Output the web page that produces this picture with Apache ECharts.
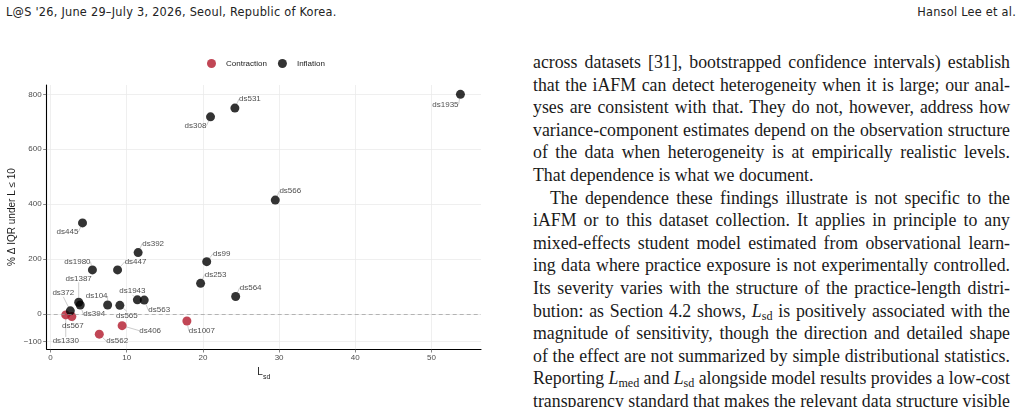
<!DOCTYPE html>
<html>
<head>
<meta charset="utf-8">
<script src="https://cdn.jsdelivr.net/npm/echarts@6/dist/echarts.min.js"></script>
<style>
  html, body { margin: 0; padding: 0; background: #fff; }
  body { width: 1023px; height: 407px; position: relative; overflow: hidden; }
  .hdr { position: absolute; top: 4px; font-family: "Liberation Sans Narrow", "DejaVu Sans Condensed", sans-serif; font-size: 12.6px; letter-spacing: 0.25px; color: #222; }
  #main { position: absolute; left: 0; top: 0; width: 500px; height: 407px; }
  .txt { position: absolute; left: 533px; top: 51px; width: 477px; font-family: "Liberation Serif", "DejaVu Serif", serif; font-size: 17.8px; line-height: 22.6px; color: #1a1a1a; }
  .txt .j { text-align: justify; text-align-last: justify; white-space: nowrap; }
  .txt .l { text-align: left; white-space: nowrap; }
  .txt .ind { text-indent: 17px; }
  .txt sub { font-size: 0.68em; line-height: 0; vertical-align: -0.25em; }
</style>
</head>
<body>
<div class="hdr" style="left:6px;">L@S '26, June 29–July 3, 2026, Seoul, Republic of Korea.</div>
<div class="hdr" style="right:7px;">Hansol Lee et al.</div>

<div id="main"></div>

<div class="txt">
  <div class="j">across datasets [31], bootstrapped confidence intervals) establish</div>
  <div class="j">that the iAFM can detect heterogeneity when it is large; our anal-</div>
  <div class="j">yses are consistent with that. They do not, however, address how</div>
  <div class="j">variance-component estimates depend on the observation structure</div>
  <div class="j">of the data when heterogeneity is at empirically realistic levels.</div>
  <div class="l">That dependence is what we document.</div>
  <div class="j ind">The dependence these findings illustrate is not specific to the</div>
  <div class="j">iAFM or to this dataset collection. It applies in principle to any</div>
  <div class="j">mixed-effects student model estimated from observational learn-</div>
  <div class="j">ing data where practice exposure is not experimentally controlled.</div>
  <div class="j">Its severity varies with the structure of the practice-length distri-</div>
  <div class="j">bution: as Section 4.2 shows, <i>L</i><sub>sd</sub> is positively associated with the</div>
  <div class="j">magnitude of sensitivity, though the direction and detailed shape</div>
  <div class="j">of the effect are not summarized by simple distributional statistics.</div>
  <div class="j">Reporting <i>L</i><sub>med</sub> and <i>L</i><sub>sd</sub> alongside model results provides a low-cost</div>
  <div class="j">transparency standard that makes the relevant data structure visible</div>
</div>

<script type="text/javascript">
    // dataset values
    var contractionNames = ['ds1330', 'ds567', 'ds562', 'ds406', 'ds1007'];
    var contractionLsd   = [2.0, 2.8, 6.4, 9.4, 17.9];
    var contractionIqr   = [-3, -9, -73, -42, -25];

    var inflationNames = ['ds1935', 'ds531', 'ds308', 'ds566', 'ds445', 'ds392', 'ds447', 'ds1980', 'ds99',
                          'ds253', 'ds564', 'ds1387', 'ds394', 'ds372', 'ds104', 'ds565', 'ds1943', 'ds563'];
    var inflationLsd   = [53.8, 24.2, 21.0, 29.5, 4.2, 11.5, 8.8, 5.5, 20.5,
                          19.7, 24.3, 3.7, 3.9, 2.6, 7.5, 9.1, 11.4, 12.3];
    var inflationIqr   = [800, 750, 718, 415, 332, 224, 161, 161, 191,
                          112, 64, 43, 33, 12, 33, 32, 52, 51];

    var xTicks = [0, 10, 20, 30, 40, 50];
    var yTicks = [-100, 0, 200, 400, 600, 800];

    // repel-style label nudges (px from the point)
    var labelNudge = {
        ds1330: [0, 26], ds567: [1, 9], ds562: [18, 7], ds406: [28, 5], ds1007: [15, 10],
        ds1935: [-15, 10], ds531: [15, -9], ds308: [-15, 9], ds566: [15, -9], ds445: [-15, 9],
        ds392: [15, -9], ds447: [18, -8], ds1980: [-15, -8], ds99: [15, -8], ds253: [15, -9],
        ds564: [15, -9], ds1387: [0, -24], ds394: [14, 9], ds372: [-7, -18], ds104: [-11, -9],
        ds565: [7, 10], ds1943: [-5, -9], ds563: [15, 10]
    };

    // squeeze justified lines that are a bit too long for the column
    var colWidth = 477;
    document.querySelectorAll('.txt .j').forEach(function (line) {
        var r = document.createRange();
        r.selectNodeContents(line);
        var w = r.getBoundingClientRect().width;
        if (w > colWidth) {
            var gaps = (line.textContent.trim().match(/ /g) || []).length || 1;
            line.style.wordSpacing = (-(w - colWidth) / gaps - 0.1) + 'px';
        }
    });

    function toPoints(names, xs, ys) {
        return names.map(function (n, i) { return { name: n, value: [xs[i], ys[i]] }; });
    }

    function nudger(names) {
        return function (params) {
            var off = labelNudge[names[params.dataIndex]] || [0, 0];
            return { dx: off[0], dy: off[1] };
        };
    }

    var pointLabel = {
        show: true,
        position: 'inside',
        formatter: '{b}',
        fontFamily: 'Liberation Sans, Arial, sans-serif',
        fontSize: 8,
        color: '#1a1a1a'
    };
    var pointLine = { show: true, lineStyle: { color: '#aaa', width: 0.6 } };

    var myChart = echarts.init(document.getElementById('main'), null, { renderer: 'canvas' });
    myChart.setOption({
        animation: false,
        textStyle: { fontFamily: 'Liberation Sans, Arial, sans-serif' },
        legend: {
            data: ['Contraction', 'Inflation'],
            left: 202,
            top: 54,
            icon: 'circle',
            itemWidth: 9,
            itemHeight: 9,
            itemGap: 11,
            textStyle: { fontSize: 8, color: '#1a1a1a', padding: [0, 0, 0, 5] }
        },
        grid: { left: 46.7, top: 85, right: 19, bottom: 58, containLabel: false, outerBoundsMode: 'none' },
        xAxis: {
            type: 'value',
            min: -0.5,
            max: 56.5,
            name: '{L|L}{s|sd}',
            nameLocation: 'middle',
            nameGap: 15,
            nameTextStyle: {
                rich: {
                    L: { fontSize: 10, color: '#1a1a1a', lineHeight: 14, verticalAlign: 'top' },
                    s: { fontSize: 7, color: '#1a1a1a', lineHeight: 14, verticalAlign: 'bottom' }
                }
            },
            axisLine: { show: true, onZero: false, lineStyle: { color: '#000', width: 1.1 } },
            axisTick: { show: true, length: 3.5, customValues: xTicks, lineStyle: { color: '#333', width: 0.6 } },
            axisLabel: { customValues: xTicks, fontSize: 8, color: '#4d4d4d', margin: 5 },
            splitLine: { show: true, lineStyle: { color: '#ebebeb', width: 0.8 } }
        },
        yAxis: {
            type: 'value',
            min: -127,
            max: 834,
            name: '% Δ IQR under L ≤ 10',
            nameLocation: 'middle',
            nameGap: 29,
            nameMoveOverlap: false,
            nameTextStyle: { fontSize: 10, color: '#1a1a1a' },
            axisLine: { show: true, onZero: false, lineStyle: { color: '#000', width: 1.1 } },
            axisTick: { show: true, length: 3.5, customValues: yTicks, lineStyle: { color: '#333', width: 0.6 } },
            axisLabel: { customValues: yTicks, fontSize: 8, color: '#4d4d4d', margin: 5,
                         formatter: function (v) { return v < 0 ? '\u2212' + (-v) : String(v); } },
            splitLine: { show: true, lineStyle: { color: '#ebebeb', width: 0.8 } }
        },
        series: [
            {
                name: 'Contraction',
                type: 'scatter',
                symbolSize: 9,
                itemStyle: { color: '#b2182b' },
                z: 3,
                label: pointLabel,
                labelLine: pointLine,
                labelLayout: nudger(contractionNames),
                data: toPoints(contractionNames, contractionLsd, contractionIqr),
                markLine: {
                    silent: true,
                    symbol: 'none',
                    label: { show: false },
                    lineStyle: { color: '#999', type: [4, 3], width: 0.7 },
                    data: [{ yAxis: 0 }]
                }
            },
            {
                name: 'Inflation',
                type: 'scatter',
                symbolSize: 9,
                itemStyle: { color: '#000' },
                z: 3,
                label: pointLabel,
                labelLine: pointLine,
                labelLayout: nudger(inflationNames),
                data: toPoints(inflationNames, inflationLsd, inflationIqr)
            }
        ]
    });
</script>
</body>
</html>
